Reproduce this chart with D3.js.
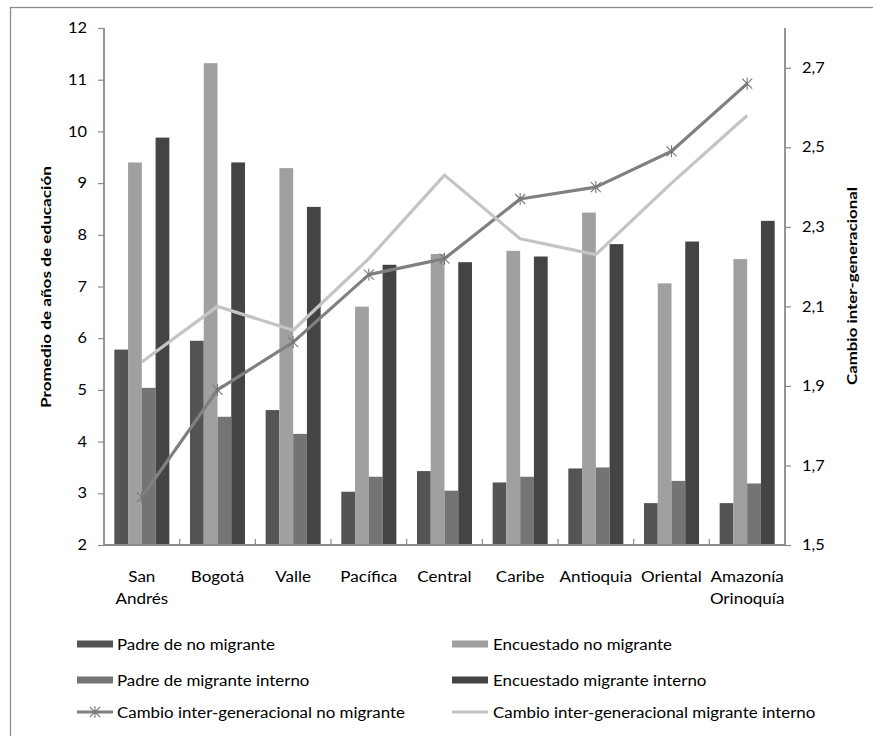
<!DOCTYPE html>
<html><head><meta charset="utf-8">
<script src="https://cdn.jsdelivr.net/npm/d3@7"></script>
<style>html,body{margin:0;padding:0;background:#fff;}svg{display:block;font-family:Lato,"Open Sans",sans-serif;}</style>
</head><body>
<svg id="c" width="873" height="736"></svg>
<script>
const categories = [["San","Andrés"],["Bogotá"],["Valle"],["Pacífica"],["Central"],["Caribe"],["Antioquia"],["Oriental"],["Amazonía","Orinoquía"]];
const seriesNames = ["Padre de no migrante","Encuestado no migrante","Padre de migrante interno","Encuestado migrante interno"];
const padreNoMigrante      = [5.78, 5.95, 4.61, 3.03, 3.43, 3.21, 3.48, 2.81, 2.81];
const encuestadoNoMigrante = [9.40, 11.32, 9.29, 6.61, 7.63, 7.69, 8.43, 7.06, 7.53];
const padreMigranteInterno = [5.04, 4.48, 4.15, 3.32, 3.05, 3.32, 3.50, 3.24, 3.19];
const encuestadoMigranteInterno = [9.88, 9.40, 8.54, 7.42, 7.47, 7.58, 7.82, 7.87, 8.27];
const lineNames = ["Cambio inter-generacional no migrante","Cambio inter-generacional migrante interno"];
const cambioNoMigrante = [1.62, 1.89, 2.01, 2.18, 2.22, 2.37, 2.40, 2.49, 2.66];
const cambioMigranteInterno = [1.96, 2.10, 2.04, 2.22, 2.43, 2.27, 2.23, 2.41, 2.58];
const leftTicks = [2,3,4,5,6,7,8,9,10,11,12];
const rightTicks = [1.5,1.7,1.9,2.1,2.3,2.5,2.7];
const leftTitle = "Promedio de años  de educación";
const rightTitle = "Cambio inter-generacional";

const barColors = ["#545454","#a0a0a0","#747474","#444444"];
const lineColors = ["#808080","#c4c4c4"];
const axisColor = "#8a8a8a";

const svg = d3.select("#c");
const L = 104, R = 785, T = 28, B = 545;
const catKeys = categories.map(c => c.join(" "));
const x0 = d3.scaleBand().domain(catKeys).range([L, R]).paddingInner(0).paddingOuter(0);
const x1 = d3.scaleBand().domain(seriesNames).range([0, x0.bandwidth()]).paddingInner(0).paddingOuter(0.75);
const yL = d3.scaleLinear().domain([2, 12]).range([B, T]);
const yR = d3.scaleLinear().domain([1.5, 2.8]).range([B, T]);

function stretch(sel, k){ sel.each(function(){ const w=this.getComputedTextLength(); this.setAttribute("textLength", w*k); this.setAttribute("lengthAdjust","spacingAndGlyphs"); }); }
function fitTo(sel, target){ sel.each(function(){ this.setAttribute("textLength", target); this.setAttribute("lengthAdjust","spacingAndGlyphs"); }); }

// outer border
svg.append("rect").attr("x",10.5).attr("y",7.5).attr("width",880).attr("height",760)
  .attr("fill","none").attr("stroke","#8c8c8c").attr("stroke-width",1.3);

// bars
const barData = [padreNoMigrante, encuestadoNoMigrante, padreMigranteInterno, encuestadoMigranteInterno];
const groups = svg.append("g").selectAll("g").data(catKeys).join("g")
  .attr("transform", d => `translate(${x0(d)},0)`);
groups.selectAll("rect").data((d,i) => seriesNames.map((s,j) => ({s, v: barData[j][i], j})))
  .join("rect")
  .attr("x", d => x1(d.s)).attr("width", x1.bandwidth())
  .attr("y", d => yL(d.v)).attr("height", d => yL(2) - yL(d.v))
  .attr("fill", d => barColors[d.j]);

// axes
const axL = svg.append("g").attr("transform",`translate(${L},0)`)
  .call(d3.axisLeft(yL).tickValues(leftTicks).tickSize(6).tickPadding(11).tickFormat(d3.format("d")));
const axR = svg.append("g").attr("transform",`translate(${R},0)`)
  .call(d3.axisRight(yR).tickValues(rightTicks).tickSize(6).tickPadding(11).tickFormat(d => d3.format(".1f")(d).replace(".",",")));
[axL, axR].forEach(a => {
  a.select(".domain").attr("stroke",axisColor).attr("stroke-width",1.8).attr("d", a===axL ? `M0,${T}V${B}` : `M0,${T}V${B}`);
  a.selectAll(".tick line").attr("stroke",axisColor).attr("stroke-width",1.2);
  a.selectAll(".tick text").attr("fill","#000").style("font-size","14.5px").style("font-family","Lato");
});
// bottom axis
const axB = svg.append("g");
axB.append("line").attr("x1",L).attr("x2",R).attr("y1",B).attr("y2",B).attr("stroke",axisColor).attr("stroke-width",1.8);
axB.selectAll("line.t").data(catKeys.slice(1)).join("line").attr("class","t")
  .attr("x1", d => x0(d)).attr("x2", d => x0(d)).attr("y1",B).attr("y2",B-6).attr("stroke",axisColor).attr("stroke-width",1.2);
const xl = axB.selectAll("text").data(categories).join("text")
  .attr("text-anchor","middle").attr("x",(d,i)=> x0(catKeys[i]) + x0.bandwidth()/2).attr("y",582)
  .style("font-size","14.5px").attr("fill","#000");
xl.selectAll("tspan").data(d => d).join("tspan")
  .attr("x", function(){ return this.parentNode.getAttribute("x"); })
  .attr("dy",(d,i)=> i===0?0:21.5).text(d=>d);

// lines
const lineData = [cambioNoMigrante, cambioMigranteInterno];
const lineGen = d3.line().x((d,i)=> x0(catKeys[i]) + x0.bandwidth()/2).y(d => yR(d));
lineData.forEach((ld, k) => {
  svg.append("path").datum(ld).attr("d", lineGen).attr("fill","none")
    .attr("stroke", lineColors[k]).attr("stroke-width",3.2).attr("stroke-linejoin","round");
});
const star = "M-5,-5L5,5M-5,5L5,-5M0,-6L0,6";
svg.append("g").selectAll("path").data(cambioNoMigrante).join("path")
  .attr("transform",(d,i)=>`translate(${x0(catKeys[i]) + x0.bandwidth()/2},${yR(d)})`)
  .attr("d", star).attr("stroke","#777").attr("stroke-width",1.1).attr("fill","none");

// titles
const tL = svg.append("text").attr("transform","translate(51,287) rotate(-90)").attr("text-anchor","middle")
  .style("font-size","14px").style("font-weight","bold").attr("fill","#000").text(leftTitle);
const tR = svg.append("text").attr("transform","translate(857,286) rotate(-90)").attr("text-anchor","middle")
  .style("font-size","14px").style("font-weight","bold").attr("fill","#000").text(rightTitle);

// legend
const legItems = [
  {name: seriesNames[0], type:"bar", color: barColors[0], x:77, y:644},
  {name: seriesNames[1], type:"bar", color: barColors[1], x:452, y:644},
  {name: seriesNames[2], type:"bar", color: barColors[2], x:77, y:680},
  {name: seriesNames[3], type:"bar", color: barColors[3], x:452, y:680},
  {name: lineNames[0], type:"line", color: lineColors[0], x:77, y:712, marker:true},
  {name: lineNames[1], type:"line", color: lineColors[1], x:452, y:712}
];
const lg = svg.append("g").selectAll("g").data(legItems).join("g").attr("transform", d=>`translate(${d.x},${d.y})`);
lg.filter(d=>d.type==="bar").append("rect").attr("x",0).attr("y",-3.5).attr("width",36).attr("height",7).attr("fill",d=>d.color);
lg.filter(d=>d.type==="line").append("line").attr("x1",0).attr("x2",36).attr("y1",0).attr("y2",0).attr("stroke",d=>d.color).attr("stroke-width",3);
lg.filter(d=>d.marker).append("path").attr("transform","translate(18,0)").attr("d",star).attr("stroke","#777").attr("stroke-width",1.1).attr("fill","none");
const lt = lg.append("text").attr("x",d=> d.x===77?40:41).attr("y",5.5).style("font-size","15.5px").attr("fill","#000").text(d=>d.name);

// horizontal stretch to mimic the original's proportions
const tmp = lt.filter(d=>d.name===seriesNames[0]).node();
const kLeg = 158 / tmp.getComputedTextLength();
stretch(lt, kLeg);
const k12 = 19 / axL.selectAll(".tick text").filter(d=>d===12).node().getComputedTextLength();
stretch(axL.selectAll(".tick text"), k12);
stretch(axR.selectAll(".tick text"), k12);
const pac = xl.filter(d=>d[0]==="Pacífica").select("tspan").node();
const kX = 57 / pac.getComputedTextLength();
xl.selectAll("tspan").each(function(){ const w=this.getComputedTextLength(); this.setAttribute("textLength", w*kX); this.setAttribute("lengthAdjust","spacingAndGlyphs"); });
fitTo(tL, 242); fitTo(tR, 198);
</script>
</body></html>
